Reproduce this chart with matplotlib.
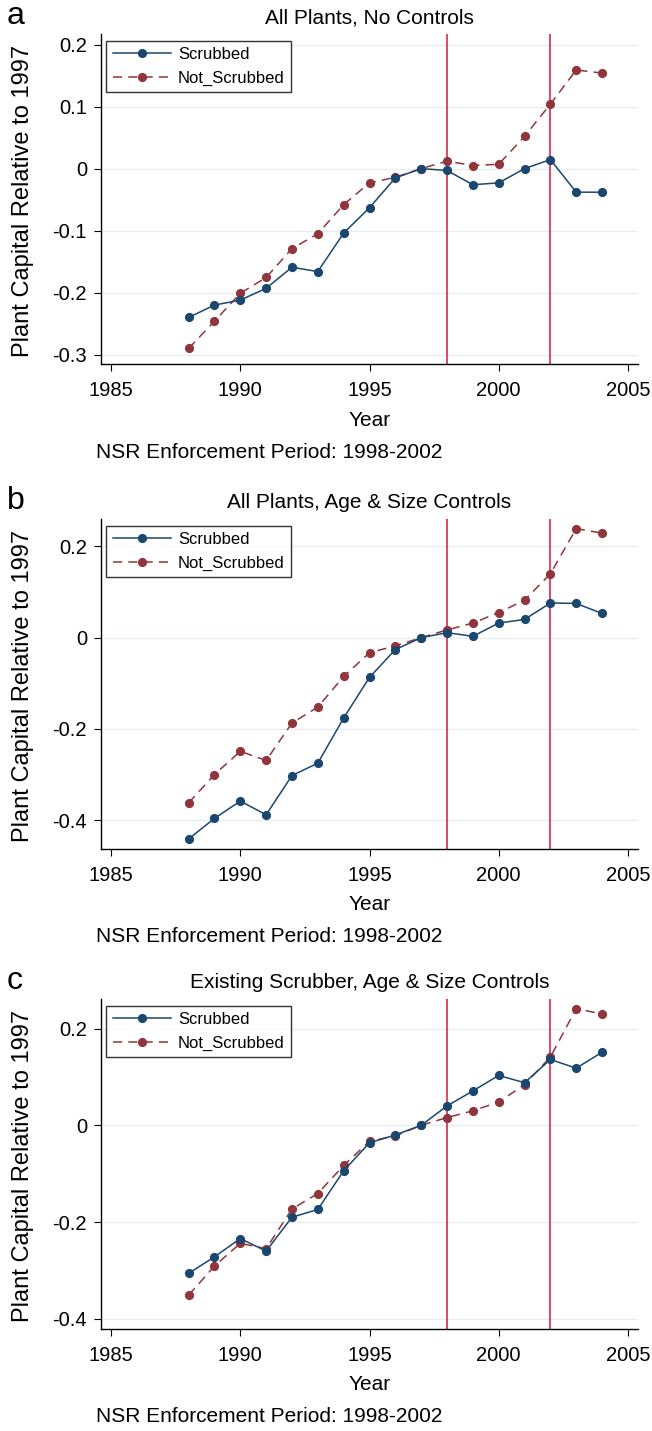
import matplotlib
matplotlib.use("Agg")
import matplotlib.pyplot as plt

plt.rcParams['font.family'] = ['Liberation Sans', 'DejaVu Sans']

years = list(range(1988, 2005))

a_scrubbed = [-0.240, -0.220, -0.212, -0.193, -0.159, -0.166, -0.104, -0.063, -0.015,
              0.000, -0.003, -0.026, -0.023, 0.000, 0.0145, -0.038, -0.038]
a_not = [-0.290, -0.246, -0.201, -0.1755, -0.129, -0.105, -0.058, -0.023, -0.014,
         0.000, 0.012, 0.005, 0.007, 0.052, 0.104, 0.159, 0.154]

b_scrubbed = [-0.441, -0.396, -0.358, -0.388, -0.302, -0.275, -0.176, -0.087, -0.026,
              0.000, 0.011, 0.003, 0.032, 0.040, 0.076, 0.075, 0.053]
b_not = [-0.362, -0.300, -0.249, -0.269, -0.187, -0.152, -0.085, -0.033, -0.018,
         0.000, 0.017, 0.032, 0.055, 0.082, 0.140, 0.239, 0.229]

c_scrubbed = [-0.306, -0.272, -0.234, -0.260, -0.190, -0.174, -0.094, -0.036, -0.020,
              0.000, 0.040, 0.071, 0.103, 0.088, 0.136, 0.118, 0.151]
c_not = [-0.351, -0.291, -0.244, -0.255, -0.173, -0.141, -0.083, -0.033, -0.022,
         0.000, 0.016, 0.030, 0.048, 0.084, 0.141, 0.241, 0.230]

titles = ["All Plants, No Controls", "All Plants, Age & Size Controls",
          "Existing Scrubber, Age & Size Controls"]
letters = ["a", "b", "c"]
series = [(a_scrubbed, a_not), (b_scrubbed, b_not), (c_scrubbed, c_not)]
yticks = [[-0.3, -0.2, -0.1, 0, 0.1, 0.2], [-0.4, -0.2, 0, 0.2], [-0.4, -0.2, 0, 0.2]]
ytick_labels = [["-0.3", "-0.2", "-0.1", "0", "0.1", "0.2"],
                ["-0.4", "-0.2", "0", "0.2"], ["-0.4", "-0.2", "0", "0.2"]]
ylims = [(-0.315, 0.217), (-0.463, 0.260), (-0.421, 0.261)]
xticks = [1985, 1990, 1995, 2000, 2005]
enforcement = [1998, 2002]
legend_labels = ["Scrubbed", "Not_Scrubbed"]

W, H = 652, 1431
fig = plt.figure(figsize=(W / 100, H / 100), dpi=100)

NAVY = "#1a476f"
MAROON = "#90353b"
VRED = "#d6163d"
GRID = "#e6eef1"

left, right = 101, 638
tops = [34, 519, 999]
ah = 330

def fx(px):
    return px / W

def fy(py):
    return 1 - py / H

for i in range(3):
    top = tops[i]
    bottom = top + ah
    ax = fig.add_axes([fx(left), fy(bottom), fx(right - left), ah / H])
    ax.set_xlim(1984.61, 2005.39)
    ax.set_ylim(*ylims[i])
    ax.set_yticks(yticks[i])
    ax.set_yticklabels(ytick_labels[i])
    ax.set_xticks(xticks)
    for y in yticks[i]:
        ax.axhline(y, color=GRID, lw=1.0, zorder=0)
    for e in enforcement:
        ax.axvline(e, color=VRED, lw=1.1, zorder=1)
    s, n = series[i]
    ax.plot(years, s, color=NAVY, lw=1.1, marker='o', ms=5.6, label=legend_labels[0], zorder=3)
    ax.plot(years, n, color=MAROON, lw=1.1, ls=(0, (6, 4)), marker='o', ms=5.6,
            label=legend_labels[1], zorder=2)
    for sp in ['top', 'right']:
        ax.spines[sp].set_visible(False)
    for sp in ['left', 'bottom']:
        ax.spines[sp].set_linewidth(1.0)
        ax.spines[sp].set_color('#000000')
    ax.tick_params(axis='both', direction='out', length=5, width=0.8, labelsize=14.5,
                   colors='black')
    ax.tick_params(axis='y', pad=5)
    ax.tick_params(axis='x', pad=7)
    leg = ax.legend(loc='upper left', bbox_to_anchor=(0.01, 0.98), fontsize=12,
                    frameon=True, fancybox=False, edgecolor='black', handlelength=3.5,
                    handletextpad=0.4, borderpad=0.4, labelspacing=0.5,
                    borderaxespad=0.0)
    leg.get_frame().set_linewidth(1.0)
    cx = (left + right) / 2
    fig.text(fx(cx), fy(top - 16), titles[i], ha='center', va='center', fontsize=15)
    fig.text(fx(7), fy(top - 18), letters[i], ha='left', va='center', fontsize=23)
    fig.text(fx(cx), fy(bottom + 56), "Year", ha='center', va='center', fontsize=15)
    fig.text(fx(96), fy(bottom + 88), "NSR Enforcement Period: 1998-2002", ha='left',
             va='center', fontsize=15)
    fig.text(fx(23), fy((top + bottom) / 2 + 2), "Plant Capital Relative to 1997",
             rotation=90, ha='center', va='center', fontsize=17)

fig.savefig("out.png", dpi=100, facecolor='white')
